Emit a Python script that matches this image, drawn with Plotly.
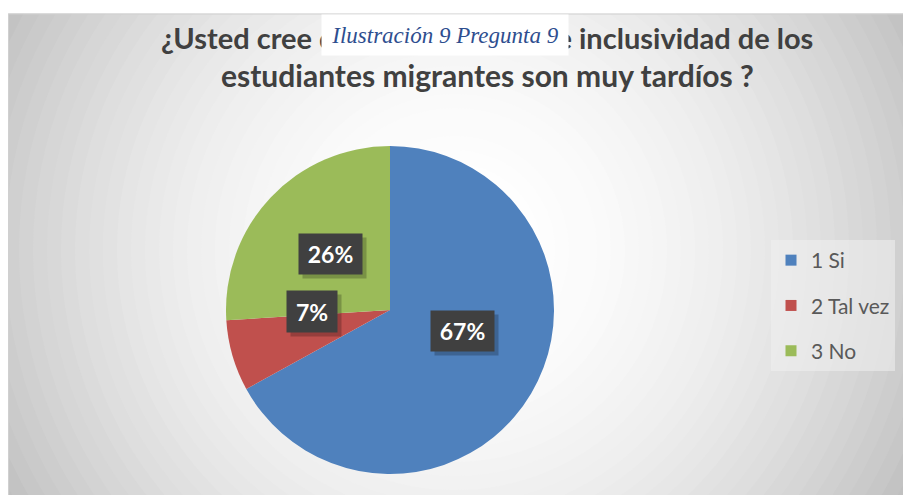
import plotly.graph_objects as go

# ---- data ----
categories = ["1 Si", "2 Tal vez", "3 No"]
values = [67, 7, 26]
colors = ["#4F81BD", "#C0504D", "#9BBB59"]
title_line1 = "¿Usted cree que los procesos de inclusividad de los"
title_line2 = "estudiantes migrantes son muy tardíos ?"
caption = "Ilustración 9 Pregunta 9"

W, H = 903, 495

def px(x):
    return x / W

def py(y):
    return 1 - y / H

fig = go.Figure()

fig.add_trace(go.Pie(
    labels=categories, values=values, sort=False, direction="clockwise",
    rotation=0, marker=dict(colors=colors, line=dict(width=0)),
    textinfo="none", hoverinfo="label+percent", showlegend=False,
    domain=dict(x=[px(226), px(554)], y=[py(474), py(146)]),
))

# legend entries (one group per category for spacing)
for i, (c, col) in enumerate(zip(categories, colors)):
    fig.add_trace(go.Scatter(
        x=[None], y=[None], mode="markers", name=c,
        marker=dict(symbol="square", size=11, color=col),
        legendgroup=f"g{i}", showlegend=True,
    ))

shapes = []
# radial gradient background
cx, cy = 455, 250
r = 660
while r > 0:
    rm = max(r - 7, 0)
    v = int(round(max(255 - 0.00024 * rm * rm, 190)))
    colr = f"rgb({v},{v},{v})"
    shapes.append(dict(type="circle", xref="paper", yref="paper", layer="below",
                       x0=px(cx - r), x1=px(cx + r), y0=py(cy + r), y1=py(cy - r),
                       fillcolor=colr, line=dict(width=0)))
    r -= 14
# white outer margins (top and left)
shapes.append(dict(type="rect", xref="paper", yref="paper", layer="below",
                   x0=-0.1, x1=1.1, y0=py(13.5), y1=1.1, fillcolor="white", line=dict(width=0)))
shapes.append(dict(type="rect", xref="paper", yref="paper", layer="below",
                   x0=-0.1, x1=px(8), y0=-0.1, y1=1.1, fillcolor="white", line=dict(width=0)))
# chart border
shapes.append(dict(type="rect", xref="paper", yref="paper", layer="below",
                   x0=px(8.5), x1=1.01, y0=-0.01, y1=py(14), line=dict(color="#d0d0d0", width=1)))

annotations = []
# title lines
annotations.append(dict(text=title_line1, x=px(487), y=py(37), xref="paper", yref="paper",
                        showarrow=False, xanchor="center", yanchor="middle",
                        font=dict(family="Lato", size=29, color="#404040", weight="bold")))
annotations.append(dict(text=title_line2, x=px(487), y=py(75), xref="paper", yref="paper",
                        showarrow=False, xanchor="center", yanchor="middle",
                        font=dict(family="Lato", size=30, color="#404040", weight="bold")))
# caption overlay
annotations.append(dict(text=caption, x=px(445), y=py(14), xref="paper", yref="paper",
                        showarrow=False, xanchor="center", yanchor="top",
                        width=246, height=40, bgcolor="white", borderpad=0,
                        font=dict(family="Liberation Serif", size=23, color="#2E4E8F", style="italic")))

# data labels
label_pos = [(462, 352), (312, 333), (330, 254)]
label_size = [(63, 40), (50, 41), (63, 40)]
total = sum(values)
for v, (lx, ly), (bw, bh) in zip(values, label_pos, label_size):
    txt = f"{round(100 * v / total)}%"
    annotations.append(dict(text="", x=px(lx + 4), y=py(ly + 4), xref="paper", yref="paper",
                            showarrow=False, width=bw, height=bh, bgcolor="rgba(0,0,0,0.22)",
                            borderpad=0))
    annotations.append(dict(text=txt, x=px(lx), y=py(ly), xref="paper", yref="paper",
                            showarrow=False, width=bw, height=bh, bgcolor="#404040",
                            borderpad=0,
                            font=dict(family="Lato", size=23, color="white", weight="bold")))

fig.update_layout(
    width=W, height=H,
    margin=dict(l=0, r=0, t=0, b=0),
    paper_bgcolor="white", plot_bgcolor="rgba(0,0,0,0)",
    xaxis=dict(visible=False), yaxis=dict(visible=False),
    shapes=shapes, annotations=annotations,
    showlegend=True,
    legend=dict(x=px(771), y=py(240), xanchor="left", yanchor="top",
                bgcolor="rgba(240,240,240,0.55)", borderwidth=0,
                tracegroupgap=15, traceorder="grouped",
                font=dict(family="Lato", size=21, color="#595959"),
                itemclick=False),
)

fig.write_html("out.html", config={"displayModeBar": False},
               post_script="document.body.style.margin='0';document.body.style.overflow='hidden';")
